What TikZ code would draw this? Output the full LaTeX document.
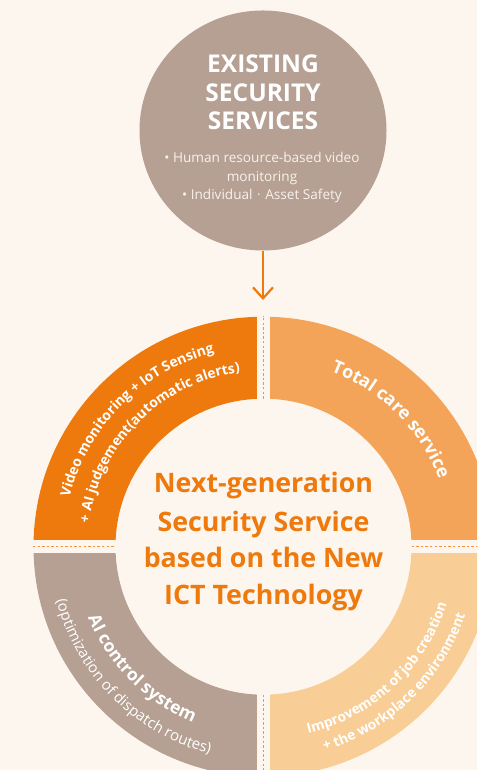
\documentclass[tikz,border=0pt]{standalone}
\usepackage{fontspec}
\setmainfont{Open Sans}
\usetikzlibrary{decorations.text,arrows.meta,shapes.geometric}
\definecolor{bg}{HTML}{FDF6EE}
\definecolor{orng}{HTML}{EE7A0D}
\definecolor{lorng}{HTML}{F4A459}
\definecolor{peach}{HTML}{F9CE96}
\definecolor{taupe}{HTML}{B5A093}
\definecolor{dashc}{HTML}{F29444}
\definecolor{subw}{HTML}{F8F2EC}
\begin{document}
\begin{tikzpicture}[x=1pt,y=1pt,
  bandtext/.style={decorate,decoration={text along path,text align=center,text color=white,text={#1}}},
  dashline/.style={draw=dashc,line width=1.6pt,dash pattern=on 2.4pt off 2.2pt},
  titletxt/.style={text=white,font=\bfseries\fontsize{24.5}{28}\selectfont,inner sep=0,anchor=base},
  subtxt/.style={text=subw,font=\fontsize{13.6}{15}\selectfont,inner sep=0,anchor=base},
  centertxt/.style={text=orng,font=\bfseries\fontsize{26.8}{30}\selectfont,inner sep=0,anchor=base},
]
\useasboundingbox (0,0) rectangle (477,770);
\clip (0,0) rectangle (477,770);
\fill[bg] (0,0) rectangle (477,770);
\coordinate (C) at (263.5,223.3);
% quadrants
\fill[orng] ([shift={(180:230)}]C) arc[start angle=180,end angle=90,radius=230] -- ([shift={(90:148)}]C) arc[start angle=90,end angle=180,radius=148] -- cycle;
\fill[lorng] ([shift={(90:230)}]C) arc[start angle=90,end angle=0,radius=230] -- ([shift={(0:148)}]C) arc[start angle=0,end angle=90,radius=148] -- cycle;
\fill[peach] ([shift={(0:230)}]C) arc[start angle=0,end angle=-90,radius=230] -- ([shift={(-90:148)}]C) arc[start angle=-90,end angle=0,radius=148] -- cycle;
\fill[taupe] ([shift={(-90:230)}]C) arc[start angle=-90,end angle=-180,radius=230] -- ([shift={(180:148)}]C) arc[start angle=180,end angle=270,radius=148] -- cycle;
% gaps
\fill[bg] ([shift={(-6.5,-240)}]C) rectangle ([shift={(6.5,240)}]C);
\fill[bg] ([shift={(-240,-6.7)}]C) rectangle ([shift={(240,6.7)}]C);
% dashed separators
\coordinate (vt1) at ([shift={(0,148)}]C);
\coordinate (vt2) at ([shift={(0,231)}]C);
\coordinate (vb1) at ([shift={(0,-148)}]C);
\coordinate (vb2) at ([shift={(0,-240)}]C);
\coordinate (hl1) at ([shift={(-230.5,0)}]C);
\coordinate (hl2) at ([shift={(-148,0)}]C);
\coordinate (hr1) at ([shift={(148,0)}]C);
\coordinate (hr2) at ([shift={(240,0)}]C);
\draw[dashline] (vt1) -- (vt2);
\draw[dashline] (vb1) -- (vb2);
\draw[dashline] (hl1) -- (hl2);
\draw[dashline] (hr1) -- (hr2);
% band texts
\path[bandtext={|\bfseries\fontsize{14}{15}\selectfont|Video monitoring + IoT Sensing}] ([shift={(180:200)}]C) arc[start angle=180,end angle=90,radius=200];
\path[bandtext={|\bfseries\fontsize{13.9}{15}\selectfont|+ AI judgement(automatic alerts)}] ([shift={(180:176)}]C) arc[start angle=180,end angle=90,radius=176];
\path[bandtext={|\bfseries\fontsize{18}{20}\selectfont|Total care service}] ([shift={(90:188)}]C) arc[start angle=90,end angle=0,radius=188];
\path[bandtext={|\bfseries\fontsize{17.5}{19}\selectfont|AI control system}] ([shift={(180:189)}]C) arc[start angle=180,end angle=270,radius=189];
\path[bandtext={|\fontsize{15}{16}\selectfont|(optimization of dispatch routes)}] ([shift={(180:214)}]C) arc[start angle=180,end angle=270,radius=214];
\path[bandtext={|\bfseries\fontsize{13.8}{15}\selectfont|Improvement of job creation}] ([shift={(268:192)}]C) arc[start angle=268,end angle=358,radius=192];
\path[bandtext={|\bfseries\fontsize{13.8}{15}\selectfont|+ the workplace environment}] ([shift={(269:213)}]C) arc[start angle=269,end angle=359,radius=213];
% center text
\node[centertxt] (c1) at (263.5,277) {Next-generation};
\node[centertxt] (c2) at (263.5,238.5) {Security Service};
\node[centertxt] (c3) at (263.5,202) {based on the New};
\node[centertxt] (c4) at (263.5,165) {ICT Technology};
% top circle
\node[ellipse,fill=taupe,minimum width=247pt,minimum height=240pt,inner sep=0] (top) at (263,639.5) {};
\node[titletxt] (t1) at (263,697) {EXISTING};
\node[titletxt] (t2) at (263,668.5) {SECURITY};
\node[titletxt] (t3) at (263,640) {SERVICES};
\node[subtxt] (s1) at (262,607) {• Human resource-based video};
\node[subtxt] (s2) at (262,588.5) {monitoring};
\node[subtxt] (s3) at (262,570) {• Individual\,\,·\,\,Asset Safety};
% arrow
\coordinate (tip) at (263,470);
\draw[orng,line width=2.2pt,-{Straight Barb[length=11pt,width=20pt]}] (top.south) -- (tip);
\end{tikzpicture}
\end{document}
